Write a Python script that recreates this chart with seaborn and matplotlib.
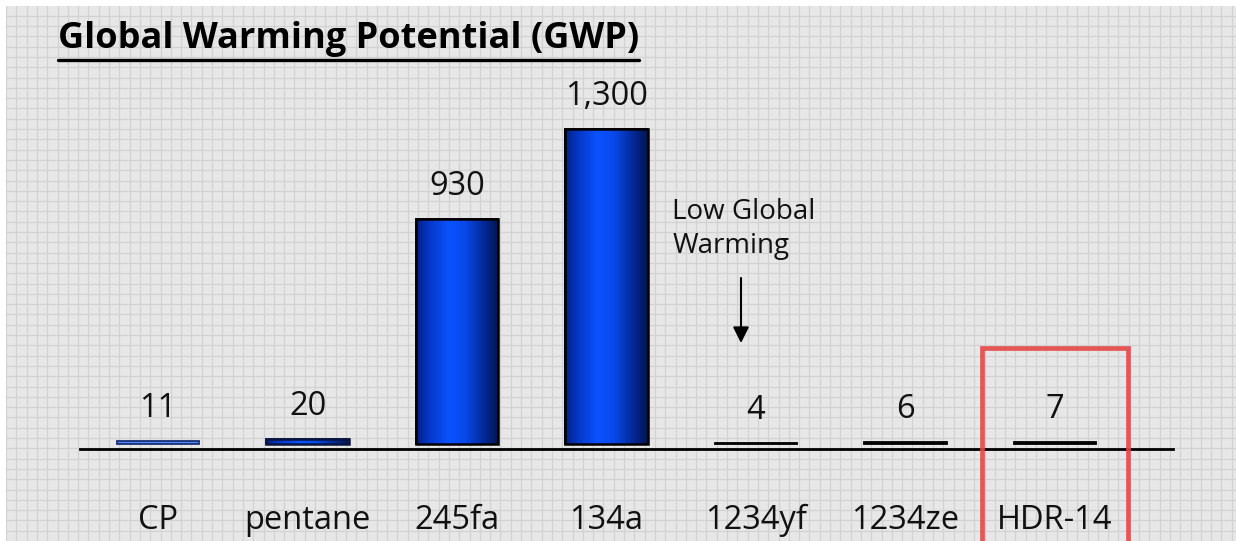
import numpy as np
import matplotlib
matplotlib.use("Agg")
import matplotlib.pyplot as plt
import matplotlib.ticker as mticker
from matplotlib.colors import LinearSegmentedColormap
from matplotlib.patches import Rectangle
import matplotlib.transforms as mtransforms
import seaborn as sns

# Data
refrigerants = ["CP", "pentane", "245fa", "134a", "1234yf", "1234ze", "HDR-14"]
gwp = [11, 20, 930, 1300, 4, 6, 7]
gwp_labels = ["11", "20", "930", "1,300", "4", "6", "7"]

# Styling per bar: fill colour, and whether the bar gets a shaded blue fill
fills = ["#5288f2", "#0a4cf0", "#0a4cf0", "#0a4cf0", "#000000", "#000000", "#000000"]
shaded = [False, True, True, True, False, False, False]
edges = ["#1a2f78", "#0b1640", "#000000", "#000000", "#000000", "#000000", "#000000"]

sns.set_theme(style="white")
plt.rcParams["font.family"] = ["Open Sans", "DejaVu Sans"]

W, H = 1236, 541
fig = plt.figure(figsize=(W / 100, H / 100), dpi=100, facecolor="white")

# Textured light-grey backdrop with a fine grid
bg = fig.add_axes([6 / W, 0, 1 - 6 / W, 1 - 6 / H])
bg.set_xlim(0, W - 6)
bg.set_ylim(0, H - 6)
bg.set_facecolor("#e7e7e7")
bg.xaxis.set_major_locator(mticker.MultipleLocator(10.3))
bg.yaxis.set_major_locator(mticker.MultipleLocator(10.3))
bg.grid(True, color="#d2d2d2", linewidth=0.9)
bg.tick_params(left=False, bottom=False, labelleft=False, labelbottom=False)
for s in bg.spines.values():
    s.set_visible(False)
bg.set_zorder(0)

# Main chart area
ax_left, ax_right = 80, 1173
ax_top, ax_bottom = 60, 449
ax = fig.add_axes([ax_left / W, 1 - ax_bottom / H,
                   (ax_right - ax_left) / W, (ax_bottom - ax_top) / H])
ax.set_zorder(1)
ax.patch.set_alpha(0)

sns.barplot(x=refrigerants, y=gwp, hue=refrigerants, palette=fills,
            legend=False, width=0.55, linewidth=1.3, saturation=1, ax=ax)

for patch, ec in zip(ax.patches, edges):
    patch.set_edgecolor(ec)

# Horizontal shading on the blue columns: dark rims, bright core
shade = LinearSegmentedColormap.from_list(
    "colshade", [(0.0, "#021f82"), (0.15, "#0537c4"), (0.4, "#0a52ff"),
                 (0.6, "#0848e8"), (0.85, "#03258c"), (1.0, "#01164e")])
grad = np.linspace(0, 1, 256).reshape(1, -1)
for patch, do_shade in zip(ax.patches, shaded):
    if not do_shade:
        continue
    x0, y0 = patch.get_x(), patch.get_y()
    w, h = patch.get_width(), patch.get_height()
    im = ax.imshow(grad, cmap=shade, aspect="auto",
                   extent=(x0, x0 + w, y0, y0 + h), zorder=patch.get_zorder() + 0.1,
                   interpolation="bilinear")
    im.set_clip_path(patch)
    outline = Rectangle((x0, y0), w, h, fill=False, edgecolor=patch.get_edgecolor(),
                        linewidth=1.8, zorder=patch.get_zorder() + 0.2)
    ax.add_patch(outline)

ax.set_xlim(-0.522, 6.79)
ax.set_ylim(-21, 1587)

# Value labels above each column
for i, (v, lab) in enumerate(zip(gwp, gwp_labels)):
    ax.annotate(lab, xy=(i, v), xytext=(0, 23.5), textcoords="offset points",
                ha="center", va="center", fontsize=23.5, color="#111111")

# Axis styling: only a baseline
for name, s in ax.spines.items():
    s.set_visible(name == "bottom")
ax.spines["bottom"].set_color("#000000")
ax.spines["bottom"].set_linewidth(2.0)
ax.set_yticks([])
ax.tick_params(axis="x", length=0, pad=39.5, labelsize=23.5, labelcolor="#111111")
ax.set_xlabel("")
ax.set_ylabel("")

# Callout for the low-GWP group
ax.annotate("", xy=(4 - 0.1, 417), xytext=(4 - 0.1, 686),
            arrowprops=dict(arrowstyle="-|>", color="#000000", lw=1.5,
                            mutation_scale=24, shrinkA=0, shrinkB=0))
ax.text(4 - 0.56, 1015, "Low Global\nWarming", ha="left", va="top",
        fontsize=20, color="#111111", linespacing=1.25)

# Highlight box around HDR-14
box_tf = mtransforms.blended_transform_factory(ax.transData, ax.transAxes)
hl = Rectangle((6 - 0.49, -0.26), 0.98, 0.52, transform=box_tf, fill=False,
               edgecolor="#e84646", linewidth=3.4, alpha=0.9, clip_on=False, zorder=3)
ax.add_patch(hl)

# Underlined title
title = fig.text(58 / W, 1 - 48 / H, "Global Warming Potential (GWP)", ha="left",
                 va="baseline", fontsize=26, fontweight="bold", color="#000000")
fig.canvas.draw()
bb = title.get_window_extent().transformed(fig.transFigure.inverted())
fig.add_artist(plt.Line2D([bb.x0, bb.x1], [1 - 60 / H, 1 - 60 / H],
                          transform=fig.transFigure, color="#000000", linewidth=2.4))

fig.savefig("out.png", dpi=100, facecolor="white")
